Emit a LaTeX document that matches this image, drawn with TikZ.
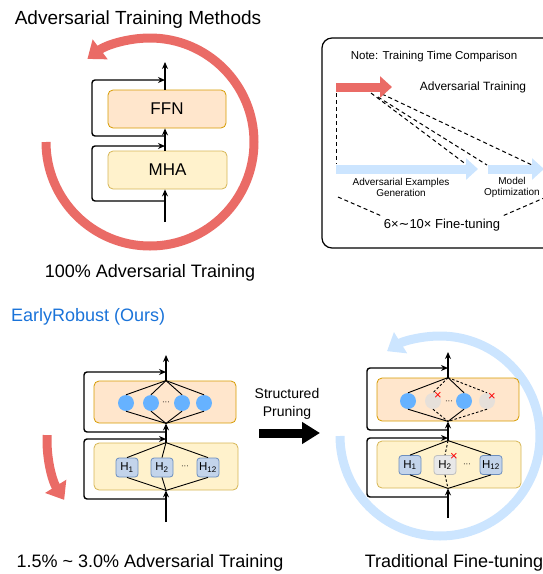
\documentclass[tikz,border=0pt]{standalone}
\usepackage{fontspec}
\setmainfont{Liberation Sans}
\newfontfamily\symfont{DejaVu Sans}
\usetikzlibrary{arrows.meta,positioning,calc}
\definecolor{advred}{HTML}{EA6B66}
\definecolor{ftblue}{HTML}{CCE5FF}
\definecolor{ffnfill}{HTML}{FFE6CC}
\definecolor{ffnline}{HTML}{D79B00}
\definecolor{mhafill}{HTML}{FFF2CC}
\definecolor{mhaline}{HTML}{D6B656}
\definecolor{neuronblue}{HTML}{66B2FF}
\definecolor{prunedgrey}{HTML}{E6E0DA}
\definecolor{headfill}{HTML}{C3D4EB}
\definecolor{headline}{HTML}{6C8EBF}
\definecolor{oursblue}{HTML}{1A73D9}
\tikzstyle{ffn} = [rectangle, draw=ffnline, fill=ffnfill, rounded corners=5pt, line width=0.8pt, font=\fontsize{17}{20}\selectfont]
\tikzstyle{mha} = [rectangle, draw=mhaline, fill=mhafill, rounded corners=5pt, line width=0.8pt, font=\fontsize{17}{20}\selectfont]
\tikzstyle{arr} = [-{Stealth[length=7pt,width=6pt]}, line width=1.2pt]
\tikzstyle{res} = [-{Stealth[length=7pt,width=6pt]}, line width=1.4pt, rounded corners=3pt]
\tikzstyle{neuron} = [circle, fill=neuronblue, minimum size=16pt, inner sep=0pt]
\tikzstyle{prunedneuron} = [circle, fill=prunedgrey, minimum size=16pt, inner sep=0pt]
\tikzstyle{head} = [rectangle, draw=headline, fill=headfill, rounded corners=3pt, minimum width=22pt, minimum height=19pt, inner sep=0pt, line width=0.8pt, font=\fontsize{11.5}{13}\selectfont]
\tikzstyle{prunedhead} = [head, draw=gray!50, fill=gray!18]
\tikzstyle{wire} = [line width=0.9pt]
\tikzstyle{cutwire} = [line width=0.9pt, dash pattern=on 2.5pt off 2pt]
\tikzstyle{cutmark} = [text=red, inner sep=0pt, font=\fontsize{13}{13}\selectfont]
\tikzstyle{dots} = [inner sep=0pt, font=\fontsize{8}{8}\selectfont]
\tikzstyle{bigtext} = [inner sep=0pt, font=\fontsize{18}{22}\selectfont]
\tikzstyle{advloop} = [draw=advred, line width=9pt, -{Triangle[length=16pt,width=24pt]}]
\tikzstyle{ftloop} = [draw=ftblue, line width=9pt, -{Triangle[length=16pt,width=24pt]}]
\tikzstyle{fatarr} = [line width=9pt, -{Triangle[length=12pt,width=21pt]}]
\tikzstyle{note} = [dash pattern=on 4pt off 3pt, line width=1pt]

\begin{document}
\begin{tikzpicture}[x=1pt, y=-1pt]
    \useasboundingbox (0,0) rectangle (542,574);

    % adversarial training methods
    \node[bigtext, font=\fontsize{19}{22}\selectfont] (advtitle) at (138,20) {Adversarial Training Methods};
    \draw[advloop] (150,142) ++(180:104) arc (180:-127:104);
    \node[ffn, minimum width=118pt, minimum height=38pt] (ffn1) at (167,109) {FFN};
    \node[mha, minimum width=119pt, minimum height=38pt] (mha1) at (167.5,170) {MHA};
    \coordinate (in1) at (165,222);
    \coordinate (out1) at (165,62);
    \coordinate (res1a) at (165,201);
    \coordinate (res1b) at (165,146);
    \coordinate (res1c) at (165,136);
    \coordinate (res1d) at (165,80);
    \draw[arr] (in1) -- (mha1.south -| in1);
    \draw[arr] (mha1.north -| in1) -- (ffn1.south -| in1);
    \draw[arr] (ffn1.north -| in1) -- (out1);
    \draw[res] (res1a) -- ++(-73,0) |- (res1b);
    \draw[res] (res1c) -- ++(-73,0) |- (res1d);
    \node[bigtext] (fulladv) at (150,273) {100\% Adversarial Training};

    % note box
    \draw[line width=1.2pt, rounded corners=10pt] (322,38) rectangle (565,248);
    \node[font=\fontsize{11.5}{13}\selectfont] (notetitle) at (434,57) {Note: Training Time Comparison};
    \coordinate (adva) at (336,87);
    \coordinate (advb) at (392,87);
    \coordinate (gena) at (336,169);
    \coordinate (genb) at (478,169);
    \coordinate (opta) at (488,169);
    \coordinate (optb) at (544,169);
    \draw[note] (336,93) -- (336,164);
    \draw[note] (371,93) -- (467,165);
    \draw[note] (378,97) -- (487,165);
    \draw[note] (382,94) -- (532,165);
    \draw[fatarr, draw=advred] (adva) -- (advb);
    \draw[fatarr, draw=ftblue] (gena) -- (genb);
    \draw[fatarr, draw=ftblue] (opta) -- (optb);
    \node[font=\fontsize{12}{14}\selectfont] (advlabel) at (473,87) {Adversarial Training};
    \node[align=center, font=\fontsize{10}{11}\selectfont] (genlabel) at (401,187) {Adversarial Examples\\Generation};
    \node[align=center, font=\fontsize{10}{11}\selectfont] (optlabel) at (512,187) {Model\\Optimization};
    \node[font=\fontsize{13}{15}\selectfont] (ftcost) at (442,225) {6×{\symfont ∼}10× Fine-tuning};
    \draw[note] (338,197) -- (ftcost.north west);
    \draw[note] (ftcost.north east) -- (544,198);

    % earlyrobust
    \node[bigtext, text=oursblue, anchor=west] (ours) at (11,317) {EarlyRobust (Ours)};
    \draw[advloop] (160,440) ++(182.5:113) arc (182.5:148:113);
    \node[ffn, minimum width=142pt, minimum height=42pt] (ffn2) at (165,402) {};
    \node[mha, minimum width=144pt, minimum height=47pt] (mha2) at (166,466.5) {};
    \coordinate (in2) at (166,522);
    \coordinate (out2) at (166,355);
    \draw[arr] (in2) -- (mha2.south -| in2);
    \draw[arr] (mha2.north -| in2) -- (ffn2.south -| in2);
    \draw[arr] (ffn2.north -| in2) -- (out2);
    \draw[res] (166,499) -- ++(-82,0) |- (166,439);
    \draw[res] (166,432) -- ++(-82,0) |- (166,372);
    \node[neuron] (n1) at (126,403) {};
    \node[neuron] (n2) at (151,403) {};
    \node[neuron] (n3) at (182,403) {};
    \node[neuron] (n4) at (204,403) {};
    \node[dots] (ndots) at (166,403) {···};
    \foreach \n in {n1,n2,n3,n4} {
        \draw[wire] (ffn2.north -| in2) -- (\n.north);
        \draw[wire] (\n.south) -- (ffn2.south -| in2);
    }
    \node[head] (h1) at (127,467.5) {H\textsubscript{1}};
    \node[head] (h2) at (162,467.5) {H\textsubscript{2}};
    \node[head] (h12) at (208,467.5) {H\textsubscript{12}};
    \node[dots] (hdots) at (185,467) {···};
    \foreach \h in {h1,h2,h12} {
        \draw[wire] (mha2.north -| in2) -- (\h.north);
        \draw[wire] (\h.south) -- (mha2.south -| in2);
    }
    \node[bigtext] (fewadv) at (150,563) {1.5\% \textasciitilde{} 3.0\% Adversarial Training};

    % structured pruning
    \node[align=center, font=\fontsize{14}{18}\selectfont] (prunelabel) at (287,404) {Structured\\Pruning};
    \coordinate (prunea) at (259,433);
    \coordinate (pruneb) at (320,433);
    \draw[fatarr, -{Triangle[length=18pt,width=21pt]}] (prunea) -- (pruneb);

    % traditional fine-tuning
    \draw[ftloop] (440,436) ++(180:100) arc (180:-122:100);
    \node[ffn, minimum width=142pt, minimum height=43pt] (ffn3) at (448,399.5) {};
    \node[mha, minimum width=144pt, minimum height=47pt] (mha3) at (449,464.5) {};
    \coordinate (in3) at (448,518);
    \coordinate (out3) at (448,352);
    \draw[arr] (in3) -- (mha3.south -| in3);
    \draw[arr] (mha3.north -| in3) -- (ffn3.south -| in3);
    \draw[arr] (ffn3.north -| in3) -- (out3);
    \draw[res] (448,497) -- ++(-81,0) |- (448,438);
    \draw[res] (448,430) -- ++(-81,0) |- (448,368);
    \node[neuron] (m1) at (408,401) {};
    \node[prunedneuron] (m2) at (433,401) {};
    \node[neuron] (m3) at (464,401) {};
    \node[prunedneuron] (m4) at (487,401) {};
    \node[dots] (mdots) at (449,402) {···};
    \foreach \n in {m1,m3} {
        \draw[wire] (ffn3.north -| in3) -- (\n.north);
        \draw[wire] (\n.south) -- (ffn3.south -| in3);
    }
    \foreach \n in {m2,m4} {
        \draw[cutwire] (ffn3.north -| in3) -- (\n.north);
        \draw[cutwire] (\n.south) -- (ffn3.south -| in3);
    }
    \node[cutmark] (cut1) at (438,396) {×};
    \node[cutmark] (cut2) at (492,397) {×};
    \node[head] (g1) at (410,465) {H\textsubscript{1}};
    \node[prunedhead] (g2) at (445,465) {H\textsubscript{2}};
    \node[head] (g12) at (491,465) {H\textsubscript{12}};
    \node[dots] (gdots) at (467,465) {···};
    \foreach \h in {g1,g12} {
        \draw[wire] (mha3.north -| in3) -- (\h.north);
        \draw[wire] (\h.south) -- (mha3.south -| in3);
    }
    \draw[cutwire] (mha3.north -| in3) -- (g2.north);
    \draw[cutwire] (g2.south) -- (mha3.south -| in3);
    \node[cutmark] (cut3) at (454,457) {×};
    \node[bigtext] (ftlabel) at (454,563) {Traditional Fine-tuning};
\end{tikzpicture}
\end{document}
